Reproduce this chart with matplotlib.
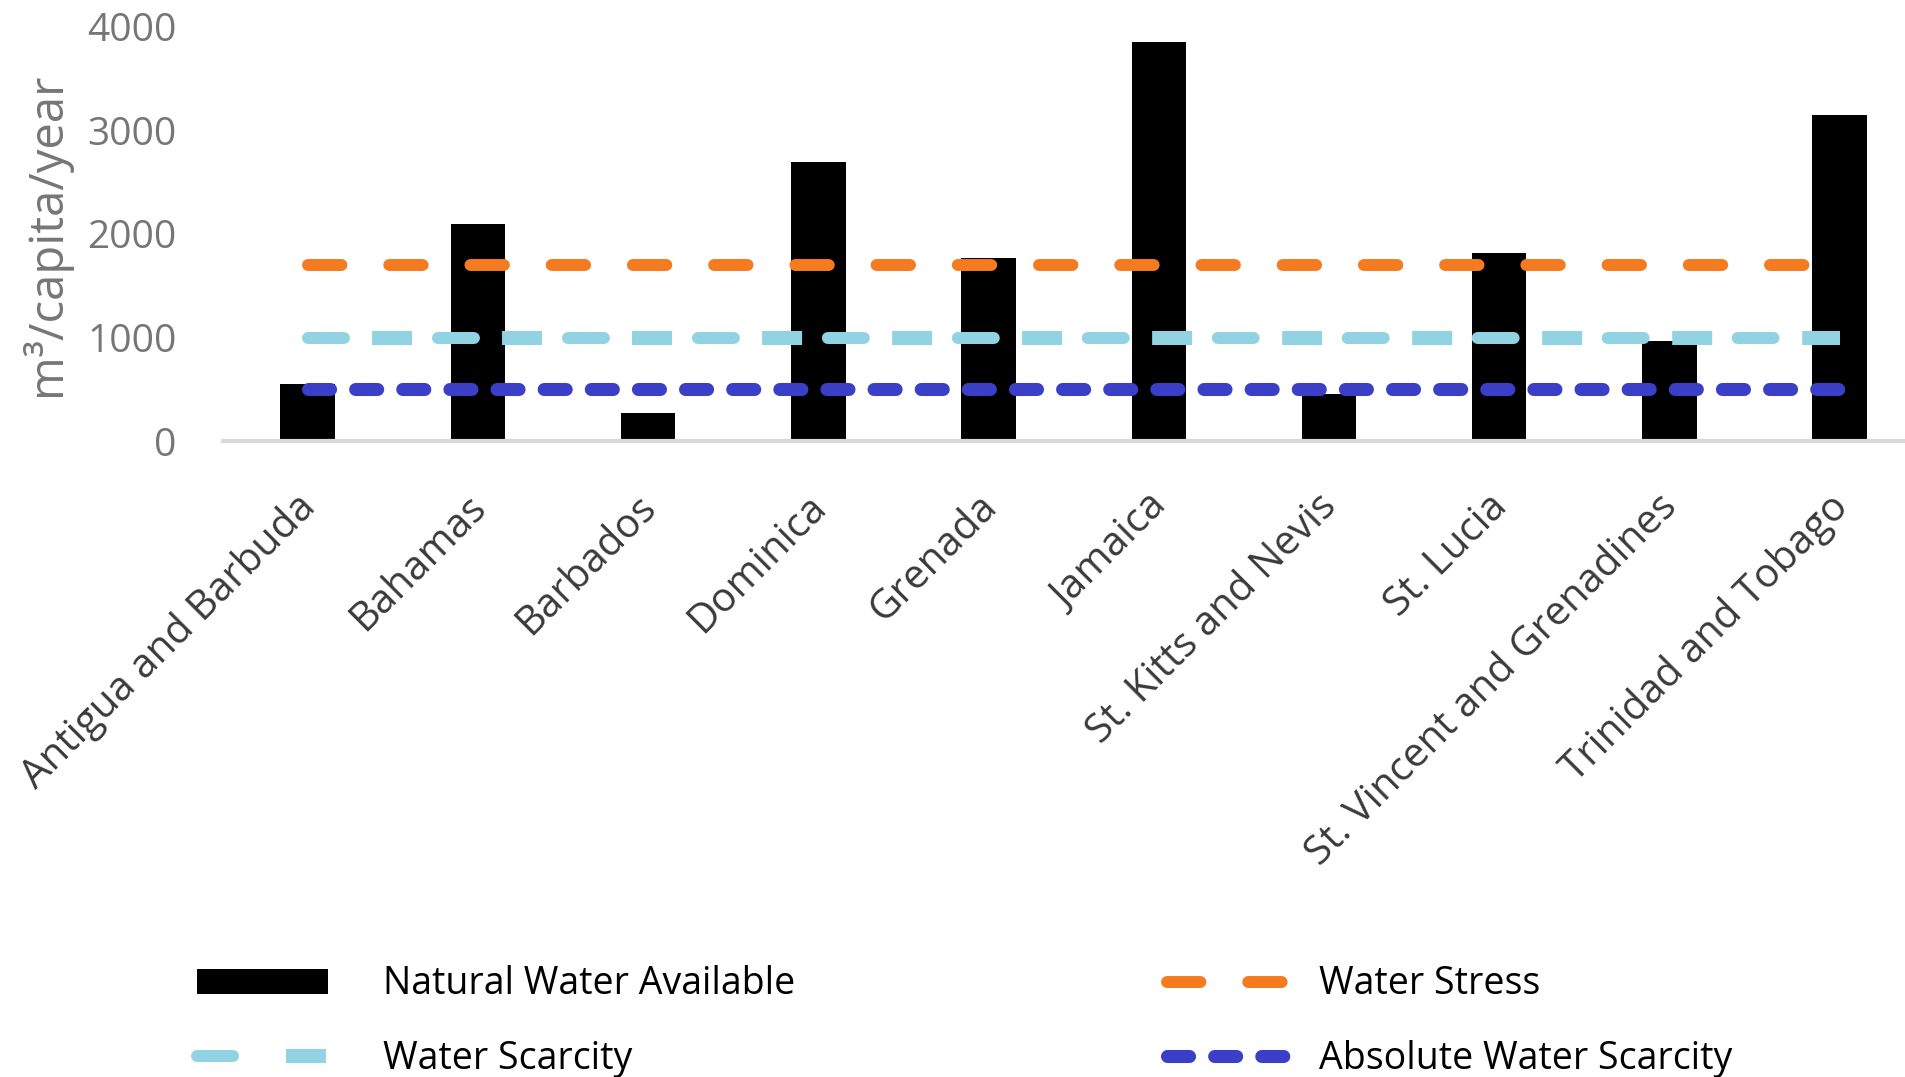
import numpy as np
import matplotlib.pyplot as plt
import matplotlib.transforms as mtransforms
from matplotlib.patches import Patch
from matplotlib.lines import Line2D
from matplotlib.legend_handler import HandlerTuple

plt.rcParams['font.family'] = ['Open Sans', 'DejaVu Sans']

# values
countries = [
    "Antigua and Barbuda",
    "Bahamas",
    "Barbados",
    "Dominica",
    "Grenada",
    "Jamaica",
    "St. Kitts and Nevis",
    "St. Lucia",
    "St. Vincent and Grenadines",
    "Trinidad and Tobago",
]
natural_water = [550, 2100, 270, 2700, 1770, 3850, 450, 1820, 970, 3150]
water_stress = [1700] * 10
water_scarcity = [1000] * 10
absolute_scarcity = [500] * 10

stress_color = "#f47b20"
scarcity_color = "#92d3e3"
absolute_color = "#3b3fc8"
grey_text = "#767676"

# line styles (dash lengths scale with linewidth)
stress_style = dict(color=stress_color, linewidth=8.6,
                    linestyle=(0, (2.8, 4.0)), dash_capstyle="round")
# the scarcity line alternates rounded and square dashes -> two overlaid lines
scarcity_round = dict(color=scarcity_color, linewidth=8.64,
                      linestyle=(0, (3.0, 7.83)), dash_capstyle="round")
scarcity_square = dict(color=scarcity_color, linewidth=10.08,
                       linestyle=(4.714, (2.857, 6.43)), dash_capstyle="butt")
absolute_style = dict(color=absolute_color, linewidth=9.4,
                      linestyle=(0, (1.69, 1.92)), dash_capstyle="round")

x = np.arange(len(countries))

fig = plt.figure(figsize=(19.06, 10.77), dpi=100)
ax = fig.add_axes([0.1168, 0.5905, 0.8832, 0.3845])

ax.bar(x, natural_water, width=0.32, color="black", zorder=1)

ax.plot(x, water_stress, zorder=3, **stress_style)
ax.plot(x, water_scarcity, zorder=3, **scarcity_round)
ax.plot(x, water_scarcity, zorder=3, **scarcity_square)
ax.plot(x, absolute_scarcity, zorder=3, **absolute_style)

ax.set_xlim(-0.5, 9.39)
ax.set_ylim(0, 4000)
ax.set_yticks([0, 1000, 2000, 3000, 4000])

for side in ["top", "right", "left"]:
    ax.spines[side].set_visible(False)
ax.spines["bottom"].set_color("#d9d9d9")
ax.spines["bottom"].set_linewidth(3)

ax.tick_params(axis="y", length=0, pad=33, labelsize=28, labelcolor=grey_text)
ax.tick_params(axis="x", length=0, pad=33)
ax.set_xticks(x)
ax.set_xticklabels(countries, rotation=45, ha="right", rotation_mode="anchor",
                   fontsize=29, color="#3a3a3a")
shift = mtransforms.ScaledTranslation(-0.12, 0, fig.dpi_scale_trans)
for lab in ax.get_xticklabels():
    lab.set_transform(lab.get_transform() + shift)

ax.set_ylabel("m³/capita/year", fontsize=34, color=grey_text, labelpad=12)

# legend: two columns laid out as two legends
sc_legend = (
    Line2D([], [], color=scarcity_color, linewidth=8.64,
           linestyle=(0, (3.0, 20)), dash_capstyle="round"),
    Line2D([], [], color=scarcity_color, linewidth=10.08,
           linestyle=(16.5, (2.857, 20)), dash_capstyle="butt"),
)
leg1 = fig.legend([Patch(facecolor="black", edgecolor="none"), sc_legend],
                  ["Natural Water Available", "Water Scarcity"],
                  loc="center left", bbox_to_anchor=(0.1034, 0.0515),
                  frameon=False, fontsize=27, borderpad=0, borderaxespad=0,
                  handlelength=3.49, handleheight=0.65, handletextpad=1.47,
                  labelspacing=0.97,
                  handler_map={tuple: HandlerTuple(ndivide=1)})
leg2 = fig.legend([Line2D([], [], **stress_style),
                   Line2D([], [], **absolute_style)],
                  ["Water Stress", "Absolute Water Scarcity"],
                  loc="center left", bbox_to_anchor=(0.6123, 0.0515),
                  frameon=False, fontsize=27, borderpad=0, borderaxespad=0,
                  handlelength=3.12, handleheight=0.65, handletextpad=0.93,
                  labelspacing=0.97)

fig.savefig("out.png", dpi=100)
